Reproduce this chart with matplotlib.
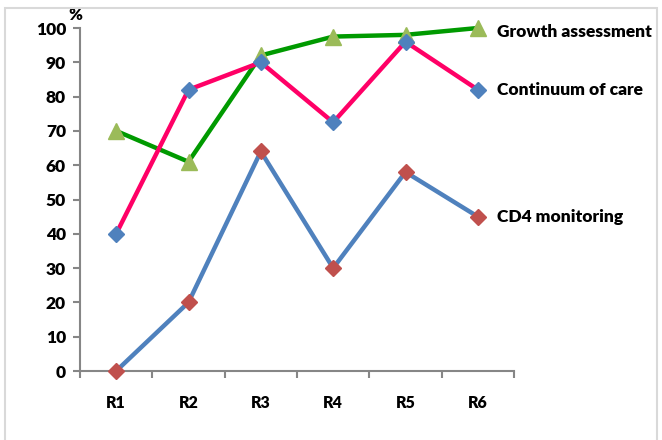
import matplotlib.pyplot as plt
from matplotlib.patches import Rectangle

rounds = ["R1", "R2", "R3", "R4", "R5", "R6"]
growth = [70, 61, 92, 97.5, 98, 100]
continuum = [40, 82, 90, 72.5, 96, 82]
cd4 = [0, 20, 64, 30, 58, 45]
series_names = ["Growth assessment", "Continuum of care", "CD4 monitoring"]
yticks = list(range(0, 101, 10))

plt.rcParams['font.family'] = ['Lato', 'DejaVu Sans']
plt.rcParams['font.weight'] = 'bold'

fig = plt.figure(figsize=(6.62, 4.40), dpi=100)
fig.patches.append(Rectangle((5/662, -0.05), 652/662, 1 - 8/440 + 0.05,
                             transform=fig.transFigure, fill=False,
                             edgecolor='#d9d9d9', linewidth=1.5))
ax = fig.add_axes([80/662, 1 - 371/440, 434/662, 343/440])

x = list(range(len(rounds)))
ax.plot(x, growth, color='#009a00', lw=3.2, marker='^', ms=11,
        mfc='#9bbb59', mec='#9bbb59', zorder=3, clip_on=False)
ax.plot(x, continuum, color='#ff0066', lw=3.2, marker='D', ms=8,
        mfc='#4f81bd', mec='#4f81bd', zorder=3, clip_on=False)
ax.plot(x, cd4, color='#4f81bd', lw=3.2, marker='D', ms=8,
        mfc='#c0504d', mec='#c0504d', zorder=3, clip_on=False)

ax.set_xlim(-0.5, len(rounds) - 0.5)
ax.set_ylim(0, 100)
ax.set_yticks(yticks)
ax.set_xticks(x)
ax.set_xticklabels(rounds)
ax.set_xticks([i - 0.5 for i in range(len(rounds) + 1)], minor=True)
ax.tick_params(axis='x', which='major', length=0, pad=17, labelsize=11.5)
ax.tick_params(axis='x', which='minor', length=5, width=1.5, color='#868686', direction='out')
ax.tick_params(axis='y', length=5, width=1.5, color='#868686', labelsize=12.5, pad=5)
for lbl in ax.get_xticklabels() + ax.get_yticklabels():
    lbl.set_fontweight('heavy')

for s in ['top', 'right']:
    ax.spines[s].set_visible(False)
for s in ['left', 'bottom']:
    ax.spines[s].set_color('#868686')
    ax.spines[s].set_linewidth(1.5)

ax.text(-0.01, 1.015, "%", transform=ax.transAxes, ha='center', va='bottom',
        fontsize=12, fontweight='heavy')

# series names beside their last point; the top one sits a little lower
label_offsets = [(14, -3), (14, 0), (14, 0)]
for name, vals, off in zip(series_names, [growth, continuum, cd4], label_offsets):
    ax.annotate(name, xy=(x[-1], vals[-1]), xytext=off, textcoords='offset points',
                va='center', ha='left', fontsize=12.5, fontweight='heavy',
                annotation_clip=False)

fig.savefig("out.png", dpi=100)
